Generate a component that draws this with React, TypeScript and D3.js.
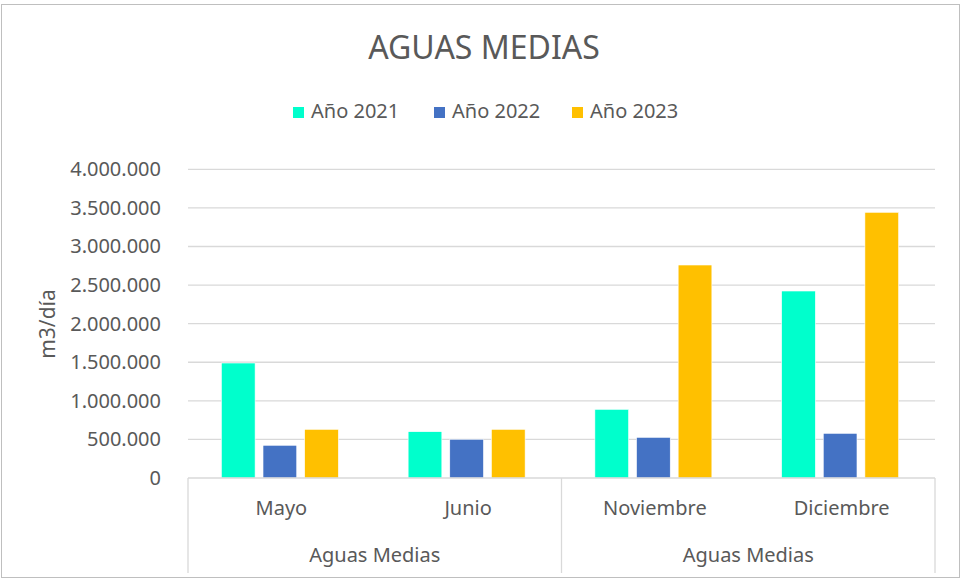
import React from "react";
import * as d3 from "d3";

const categories = ["Mayo", "Junio", "Noviembre", "Diciembre"];
const groups = ["Aguas Medias", "Aguas Medias"];
const series = ["Año 2021", "Año 2022", "Año 2023"];
const values2021 = [1490000, 600000, 890000, 2423000];
const values2022 = [424000, 502000, 527000, 579000];
const values2023 = [631000, 631000, 2760000, 3443000];
const yTicks = [0, 500000, 1000000, 1500000, 2000000, 2500000, 3000000, 3500000, 4000000];
const colors = ["#00FFCC", "#4472C4", "#FFC000"];

const W = 963;
const H = 580;
const FONT = "'Noto Sans', sans-serif";
const TXT = "#595959";

export default function App() {
  const left = 188;
  const right = 935;
  const top = 169.3;
  const bottom = 478;
  const axisBottom = 573;

  const y = d3.scaleLinear().domain([0, 4000000]).range([bottom, top]);
  const x0 = d3.scaleBand<string>().domain(categories.map((c, i) => i + "")).range([left, right]).padding(0);
  const groupW = 117;
  const x1 = d3.scaleBand<string>().domain(series).range([0, groupW]).paddingInner(0.19);
  const data = [values2021, values2022, values2023];
  const fmt = (v: number) => d3.format(",")(v).replace(/,/g, ".");

  // legend layout
  const legendY = 118;
  const legendStarts = [293, 434, 572];

  const groupBounds = [left, x0("2")!, right];

  return (
    <svg width={W} height={H} style={{ position: "absolute", left: 0, top: 0, background: "#fff" }} fontFamily={FONT}>
      <rect x={1.5} y={4.5} width={958} height={573} fill="#fff" stroke="#BFBFBF" strokeWidth={1} />
      <text x={484} y={58.5} textAnchor="middle" fontSize={32} fill={TXT}>AGUAS MEDIAS</text>

      {series.map((s, i) => (
        <g key={s}>
          <rect x={legendStarts[i]} y={legendY - 11} width={11} height={11} fill={colors[i]} />
          <text x={legendStarts[i] + 18} y={legendY} fontSize={20} fill={TXT}>{s}</text>
        </g>
      ))}

      {yTicks.map((t) => (
        <g key={t}>
          {t > 0 && <line x1={left} x2={right} y1={y(t)} y2={y(t)} stroke="#D9D9D9" strokeWidth={1.3} />}
          <text x={161} y={y(t)} dy="0.35em" textAnchor="end" fontSize={20} fill={TXT}>{fmt(t)}</text>
        </g>
      ))}

      <text transform={`translate(55,324) rotate(-90)`} textAnchor="middle" fontSize={21} fill={TXT}>m3/día</text>

      {categories.map((c, ci) => {
        const bx = x0(ci + "")! + (x0.bandwidth() - groupW) / 2 - 1.5;
        return (
          <g key={c}>
            {series.map((s, si) => {
              const v = data[si][ci];
              return (
                <rect
                  key={s}
                  x={bx + x1(s)!}
                  y={y(v)}
                  width={x1.bandwidth()}
                  height={bottom - y(v)}
                  fill={colors[si]}
                  stroke="#ffffff"
                  strokeWidth={0.6}
                />
              );
            })}
            <text x={x0(ci + "")! + x0.bandwidth() / 2} y={515} textAnchor="middle" fontSize={20} fill={TXT}>{c}</text>
          </g>
        );
      })}

      <line x1={left} x2={right} y1={bottom} y2={bottom} stroke="#D9D9D9" strokeWidth={1.3} />
      {groupBounds.map((gx, i) => (
        <line key={i} x1={gx} x2={gx} y1={bottom} y2={axisBottom} stroke="#D9D9D9" strokeWidth={1.3} />
      ))}
      {groups.map((g, i) => (
        <text key={i} x={(groupBounds[i] + groupBounds[i + 1]) / 2} y={562} textAnchor="middle" fontSize={20} fill={TXT}>{g}</text>
      ))}
    </svg>
  );
}
